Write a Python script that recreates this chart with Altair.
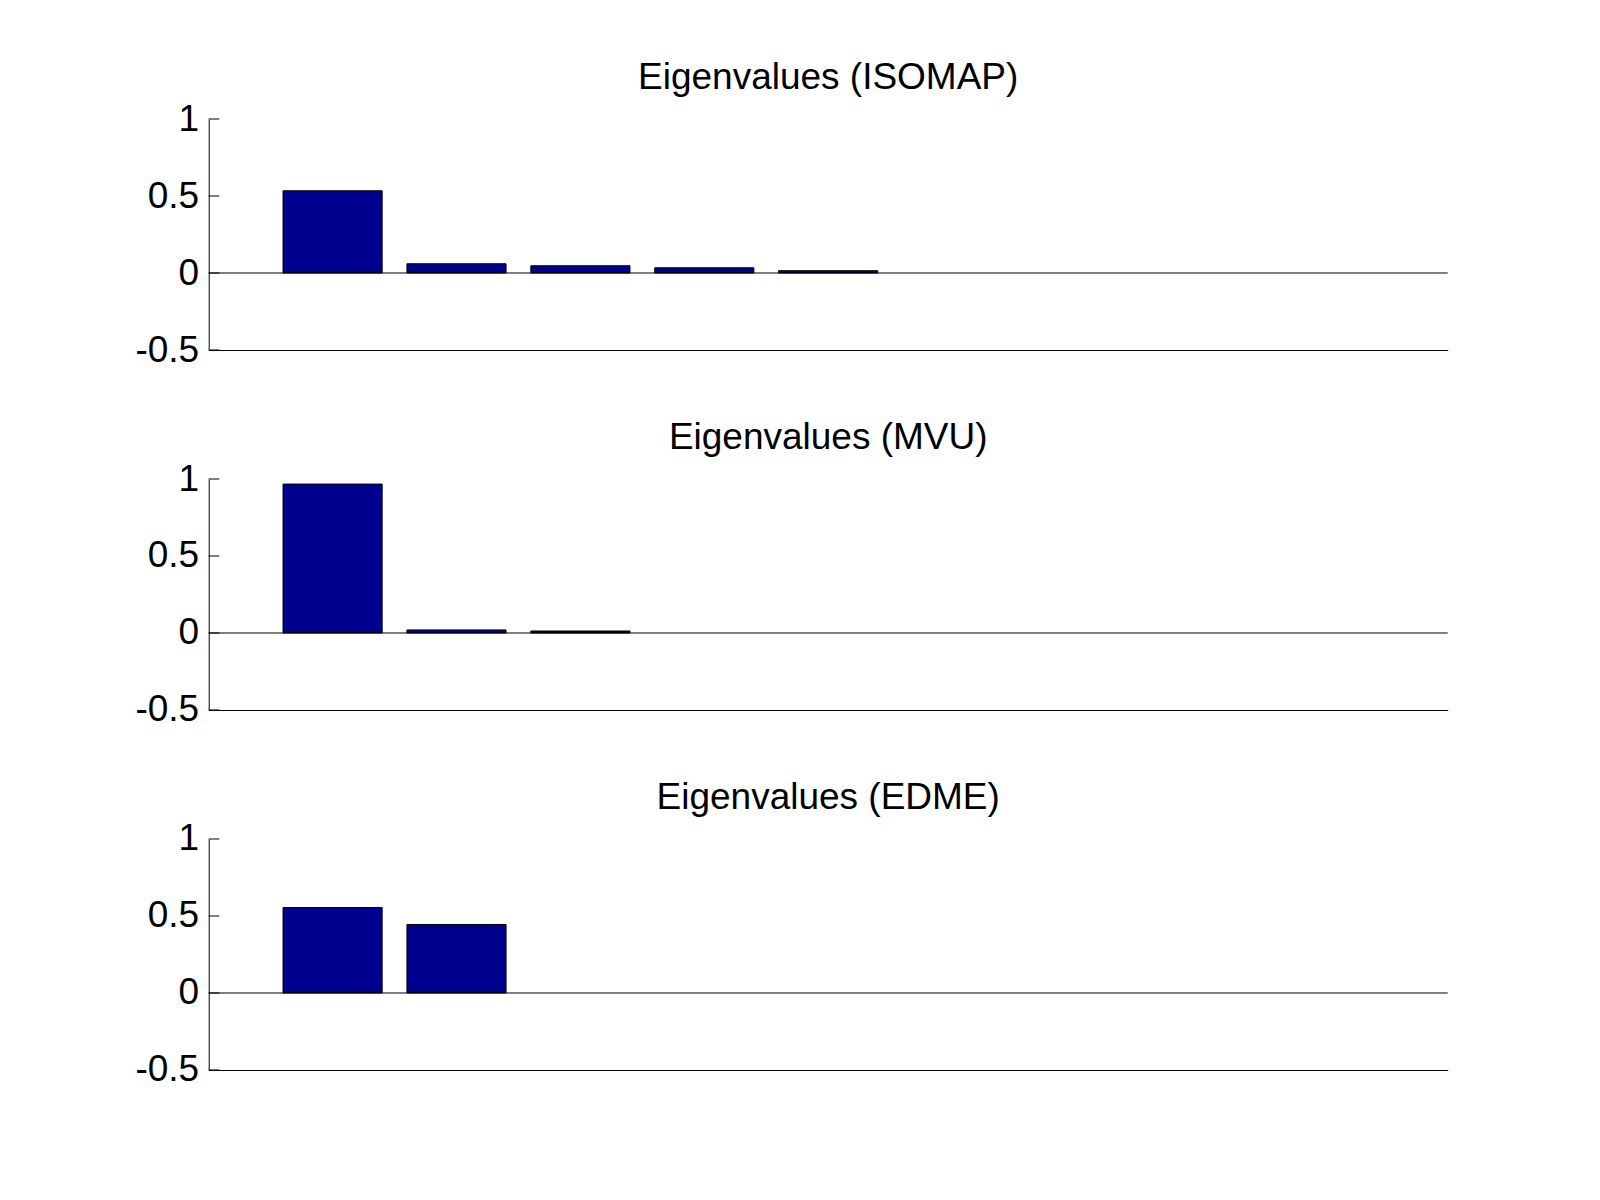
import altair as alt
import pandas as pd

# ---- data ----
titles = ["Eigenvalues (ISOMAP)", "Eigenvalues (MVU)", "Eigenvalues (EDME)"]
isomap_vals = [0.534, 0.060, 0.047, 0.034, 0.015]
mvu_vals = [0.967, 0.020, 0.013]
edme_vals = [0.555, 0.445]
y_ticks = [-0.5, 0, 0.5, 1]
x_domain = [0, 10]
bar_width = 0.8

FONT = "Liberation Sans"
BAR_COLOR = "#00008F"
PLOT_W = 1239
PLOT_H = 231


def panel(title, values):
    n = len(values)
    df = pd.DataFrame({
        "idx": list(range(1, n + 1)),
        "value": values,
    })
    df["x0"] = df["idx"] - bar_width / 2
    df["x1"] = df["idx"] + bar_width / 2

    xscale = alt.Scale(domain=x_domain, nice=False, zero=False)
    yscale = alt.Scale(domain=[y_ticks[0], y_ticks[-1]], nice=False)

    bars = alt.Chart(df).mark_bar(
        color=BAR_COLOR, stroke="black", strokeWidth=1
    ).encode(
        x=alt.X("x0:Q", scale=xscale,
                axis=alt.Axis(labels=False, ticks=False, grid=False,
                              title=None, domainColor="black",
                              domainWidth=1, orient="bottom")),
        x2="x1:Q",
        y=alt.Y("value:Q", scale=yscale,
                axis=alt.Axis(values=y_ticks, ticks=False, grid=False,
                              title=None, domainColor="black", domainWidth=1,
                              labelExpr="toString(datum.value)",
                              labelFont=FONT, labelFontSize=37,
                              labelColor="black", labelPadding=10,
                              minExtent=80, maxExtent=80)),
        y2=alt.datum(0),
    )

    zero = alt.Chart(pd.DataFrame({"z": [0]})).mark_rule(
        color="black", strokeWidth=1
    ).encode(
        y=alt.Y("z:Q", scale=yscale),
        x=alt.datum(x_domain[0], scale=xscale),
        x2=alt.datum(x_domain[1]),
    )

    tick_df = pd.DataFrame({"t": y_ticks})
    ticks = alt.Chart(tick_df).mark_rule(
        color="black", strokeWidth=1
    ).encode(
        y=alt.Y("t:Q", scale=yscale),
        x=alt.datum(x_domain[0], scale=xscale),
        x2=alt.datum(0.086),
    )

    return alt.layer(bars, zero, ticks).properties(
        width=PLOT_W, height=PLOT_H,
        title=alt.TitleParams(title, font=FONT, fontSize=37, fontWeight="normal",
                              color="black", anchor="middle",
                              baseline="alphabetic", offset=-26),
    )


chart = alt.vconcat(
    panel(titles[0], isomap_vals),
    panel(titles[1], mvu_vals),
    panel(titles[2], edme_vals),
    spacing=129,
    bounds="flush",
).properties(
    padding={"left": 120.7, "top": 51, "right": 10, "bottom": 10},
    background="white",
).configure_view(stroke=None)

chart.save("out.html", embed_options={"renderer": "svg", "actions": False})
